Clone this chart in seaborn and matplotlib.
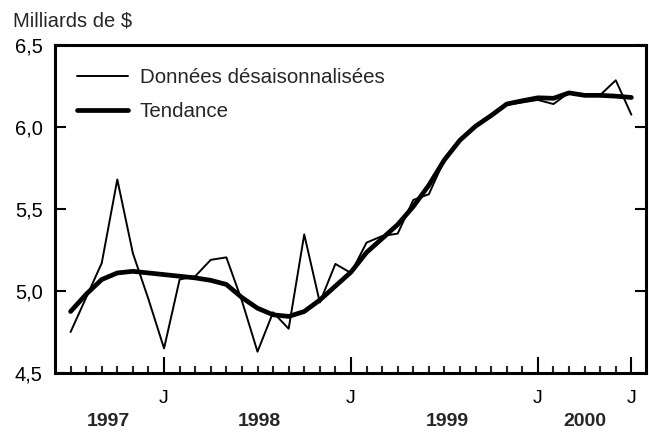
import numpy as np
import pandas as pd
import matplotlib
matplotlib.use("Agg")
import matplotlib.pyplot as plt
import matplotlib.transforms as mtransforms
import seaborn as sns

# monthly series, July 1997 to July 2000 (billions of $)
mois = pd.period_range("1997-07", periods=37, freq="M").astype(str)
donnees = [4.75, 4.96, 5.17, 5.68, 5.23, 4.95, 4.65, 5.07, 5.09, 5.19,
           5.205, 4.94, 4.63, 4.87, 4.77, 5.345, 4.93, 5.165, 5.11, 5.295,
           5.335, 5.35, 5.555, 5.59, 5.80, 5.915, 6.005, 6.07, 6.135, 6.15,
           6.165, 6.14, 6.21, 6.19, 6.195, 6.285, 6.075]
tendance = [4.875, 4.98, 5.07, 5.11, 5.12, 5.11, 5.10, 5.09, 5.08, 5.065,
            5.04, 4.96, 4.895, 4.855, 4.845, 4.875, 4.945, 5.03, 5.115, 5.235,
            5.32, 5.405, 5.515, 5.645, 5.80, 5.92, 6.005, 6.07, 6.14, 6.16,
            6.178, 6.175, 6.208, 6.193, 6.193, 6.188, 6.18]
annees = ["1997", "1998", "1999", "2000"]
pos_annees = [2.4, 12.1, 24.2, 33.0]
pos_j = [6, 18, 30, 36]
y_ticks = [4.5, 5.0, 5.5, 6.0, 6.5]
y_labels = ["4,5", "5,0", "5,5", "6,0", "6,5"]

df = pd.DataFrame({"mois": mois, "x": np.arange(len(mois)),
                   "donnees": donnees, "tendance": tendance})

sns.set_style("white")
plt.rcParams["font.family"] = ["Liberation Sans", "DejaVu Sans"]

fig = plt.figure(figsize=(6.49, 4.37), dpi=100)
ax = fig.add_axes([55 / 649, 64 / 437, 591 / 649, 328 / 437])

sns.lineplot(data=df, x="x", y="donnees", color="black", linewidth=1.4,
             label="Données désaisonnalisées", ax=ax)
sns.lineplot(data=df, x="x", y="tendance", color="black", linewidth=3.4,
             label="Tendance", ax=ax)

ax.set_xlim(-1, 36.94)
ax.set_ylim(4.5, 6.5)
ax.set_xlabel("")
ax.set_ylabel("")

for s in ax.spines.values():
    s.set_visible(True)
    s.set_color("black")
    s.set_linewidth(2.2)

ax.set_xticks(pos_j)
ax.set_xticklabels(["J"] * len(pos_j), fontsize=14)
ax.set_xticks([i for i in range(len(mois)) if i not in pos_j], minor=True)
ax.tick_params(axis="x", which="major", direction="in", length=11.5,
               width=1.5, pad=12.5, bottom=True, top=False, colors="black")
ax.tick_params(axis="x", which="minor", direction="in", length=5,
               width=1.5, bottom=True, top=False)

ax.set_yticks(y_ticks)
ax.set_yticklabels(y_labels, fontsize=14.5)
ax.tick_params(axis="y", direction="in", length=8, width=1.5, pad=9,
               left=True, right=True, colors="black")

trans = mtransforms.blended_transform_factory(ax.transData, ax.transAxes)
for a, p in zip(annees, pos_annees):
    ax.text(p, -0.148, a, transform=trans, ha="center", va="center",
            fontsize=14, fontweight="bold")

fig.text(13 / 649, 1 - 21 / 437, "Milliards de $", ha="left", va="center",
         fontsize=14.5)

ax.legend(loc="upper left", bbox_to_anchor=(0.037, 0.93), frameon=False,
          fontsize=14.8, handlelength=2.5, handletextpad=0.55,
          labelspacing=0.72, borderpad=0, borderaxespad=0)

fig.savefig("out.png", dpi=100)
